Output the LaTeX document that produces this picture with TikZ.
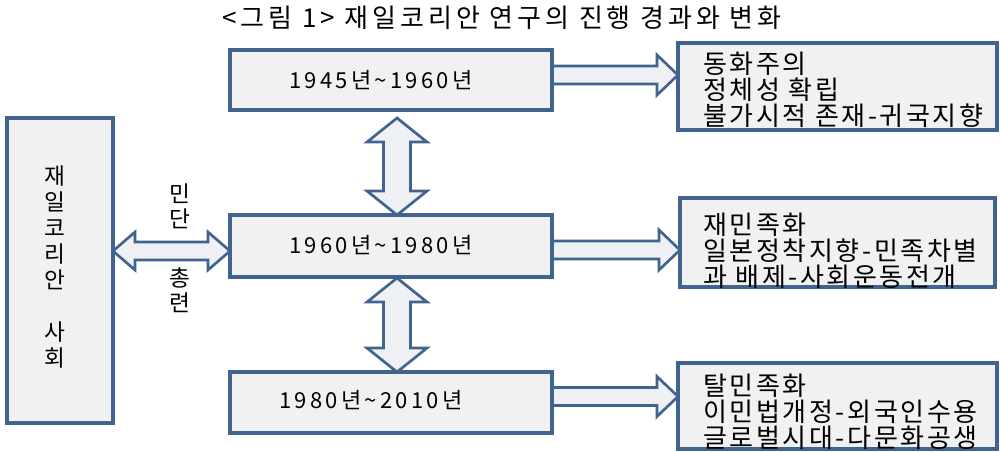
\documentclass[tikz,border=0pt]{standalone}
\usepackage{fontspec}
\setmainfont{Noto Sans CJK KR}
\newfontfamily\titlefont[LetterSpace=15]{Noto Sans CJK KR}
\newfontfamily\listfont[LetterSpace=10]{Noto Sans CJK KR}
\newfontfamily\yearfont[LetterSpace=15]{Noto Sans CJK KR}
\usetikzlibrary{calc}
\definecolor{bord}{RGB}{65,100,143}
\definecolor{boxfill}{RGB}{241,241,242}
\definecolor{arrfill}{RGB}{238,240,244}
\pgfdeclarelayer{bg}
\pgfsetlayers{bg,main}
\newcommand\hdarrow[2]{%
 \draw[fat] (#1) -- ($(#1)+(22,-19)$) -- ($(#1)+(22,-9)$) -- ($(#2)+(-22,-9)$) -- ($(#2)+(-22,-19)$) -- (#2) -- ($(#2)+(-22,19)$) -- ($(#2)+(-22,9)$) -- ($(#1)+(22,9)$) -- ($(#1)+(22,19)$) -- cycle;}
\newcommand\vdarrow[2]{%
 \draw[fat] (#1) -- ($(#1)+(30,24)$) -- ($(#1)+(13.5,24)$) -- ($(#2)+(13.5,-24)$) -- ($(#2)+(30,-24)$) -- (#2) -- ($(#2)+(-30,-24)$) -- ($(#2)+(-13.5,-24)$) -- ($(#1)+(-13.5,24)$) -- ($(#1)+(-30,24)$) -- cycle;}
\newcommand\rsarrow[2]{%
 \draw[fat] ($(#1)+(0,-9)$) -- ($(#2)+(-21,-9)$) -- ($(#2)+(-21,-20)$) -- (#2) -- ($(#2)+(-21,20)$) -- ($(#2)+(-21,9)$) -- ($(#1)+(0,9)$) -- cycle;}
\begin{document}
\begin{tikzpicture}[x=0.75pt,y=-0.75pt,
  box/.style={draw=bord, line width=2.7pt, fill=boxfill, inner sep=0pt, outer sep=0pt},
  fat/.style={draw=bord, line width=2pt, fill=arrfill, line join=miter},
  yeartxt/.style={inner sep=0pt, font=\yearfont\fontsize{16.5pt}{20pt}\selectfont},
  listtxt/.style={inner sep=0pt, anchor=west, align=left, font=\listfont\fontsize{19.5pt}{19.5pt}\selectfont},
  vtxt/.style={inner sep=0pt, align=center, font=\fontsize{17pt}{19.5pt}\selectfont},
  sidetxt/.style={inner sep=0pt, align=center, font=\fontsize{17pt}{18.75pt}\selectfont},
  titletxt/.style={inner sep=0pt, font=\titlefont\fontsize{19.5pt}{22pt}\selectfont}
]
\begin{pgfonlayer}{bg}
\fill[white] (0,0) rectangle (1000,451);
\end{pgfonlayer}
\useasboundingbox (0,0) rectangle (1000,451);

\node[titletxt] (title) at (502,18) {<그림 1> 재일코리안 연구의 진행 경과와 변화};

\node[box, minimum width=79.5pt, minimum height=228.75pt] (left) at (60,270.5) {};
\node[box, minimum width=241.5pt, minimum height=45pt] (p1) at (391,80) {};
\node[box, minimum width=241.5pt, minimum height=46.5pt] (p2) at (391,246) {};
\node[box, minimum width=241.5pt, minimum height=45.75pt] (p3) at (391,402.5) {};
\node[box, minimum width=239.25pt, minimum height=65.25pt] (r1) at (837.5,86.5) {};
\node[box, minimum width=236.25pt, minimum height=66.75pt] (r2) at (837.5,242.5) {};
\node[box, minimum width=239.25pt, minimum height=64.5pt] (r3) at (837.5,406) {};

\node[vtxt] (lefttxt) at (55,267.5) {재\\일\\코\\리\\안\\~\\사\\회};
\node[sidetxt] (mindan) at (180,206) {민\\단};
\node[sidetxt] (chongryon) at (180,290) {총\\련};

\node[yeartxt] (y1) at (381,80) {1945년\textasciitilde1960년};
\node[yeartxt] (y2) at (381,245) {1960년\textasciitilde1980년};
\node[yeartxt] (y3) at (371,400) {1980년\textasciitilde2010년};

\node[listtxt] (t1) at (703,90) {동화주의\\정체성 확립\\불가시적 존재-귀국지향};
\node[listtxt] (t2) at (703,251) {재민족화\\일본정착지향-민족차별\\과 배제-사회운동전개};
\node[listtxt] (t3) at (703,412) {탈민족화\\이민법개정-외국인수용\\글로벌시대-다문화공생};

\coordinate (la) at ($(p2.west)+(0,5)$);
\coordinate (lb) at (left.east |- la);
\coordinate (v1a) at ($(p1.south)+(6,8)$);
\coordinate (v1b) at ($(p2.north)+(6,0)$);
\coordinate (v2a) at ($(p2.south)+(6,1)$);
\coordinate (v2b) at ($(p3.north)+(6,0)$);
\coordinate (ra1) at ($(p1.east)+(0,-5)$);
\coordinate (rb1) at (r1.west |- ra1);
\coordinate (ra2) at ($(p2.east)+(0,4)$);
\coordinate (rb2) at (r2.west |- ra2);
\coordinate (ra3) at ($(p3.east)+(0,-6)$);
\coordinate (rb3) at (r3.west |- ra3);

\begin{pgfonlayer}{bg}
\hdarrow{lb}{la}
\vdarrow{v1a}{v1b}
\vdarrow{v2a}{v2b}
\rsarrow{ra1}{rb1}
\rsarrow{ra2}{rb2}
\rsarrow{ra3}{rb3}
\end{pgfonlayer}
\end{tikzpicture}
\end{document}
